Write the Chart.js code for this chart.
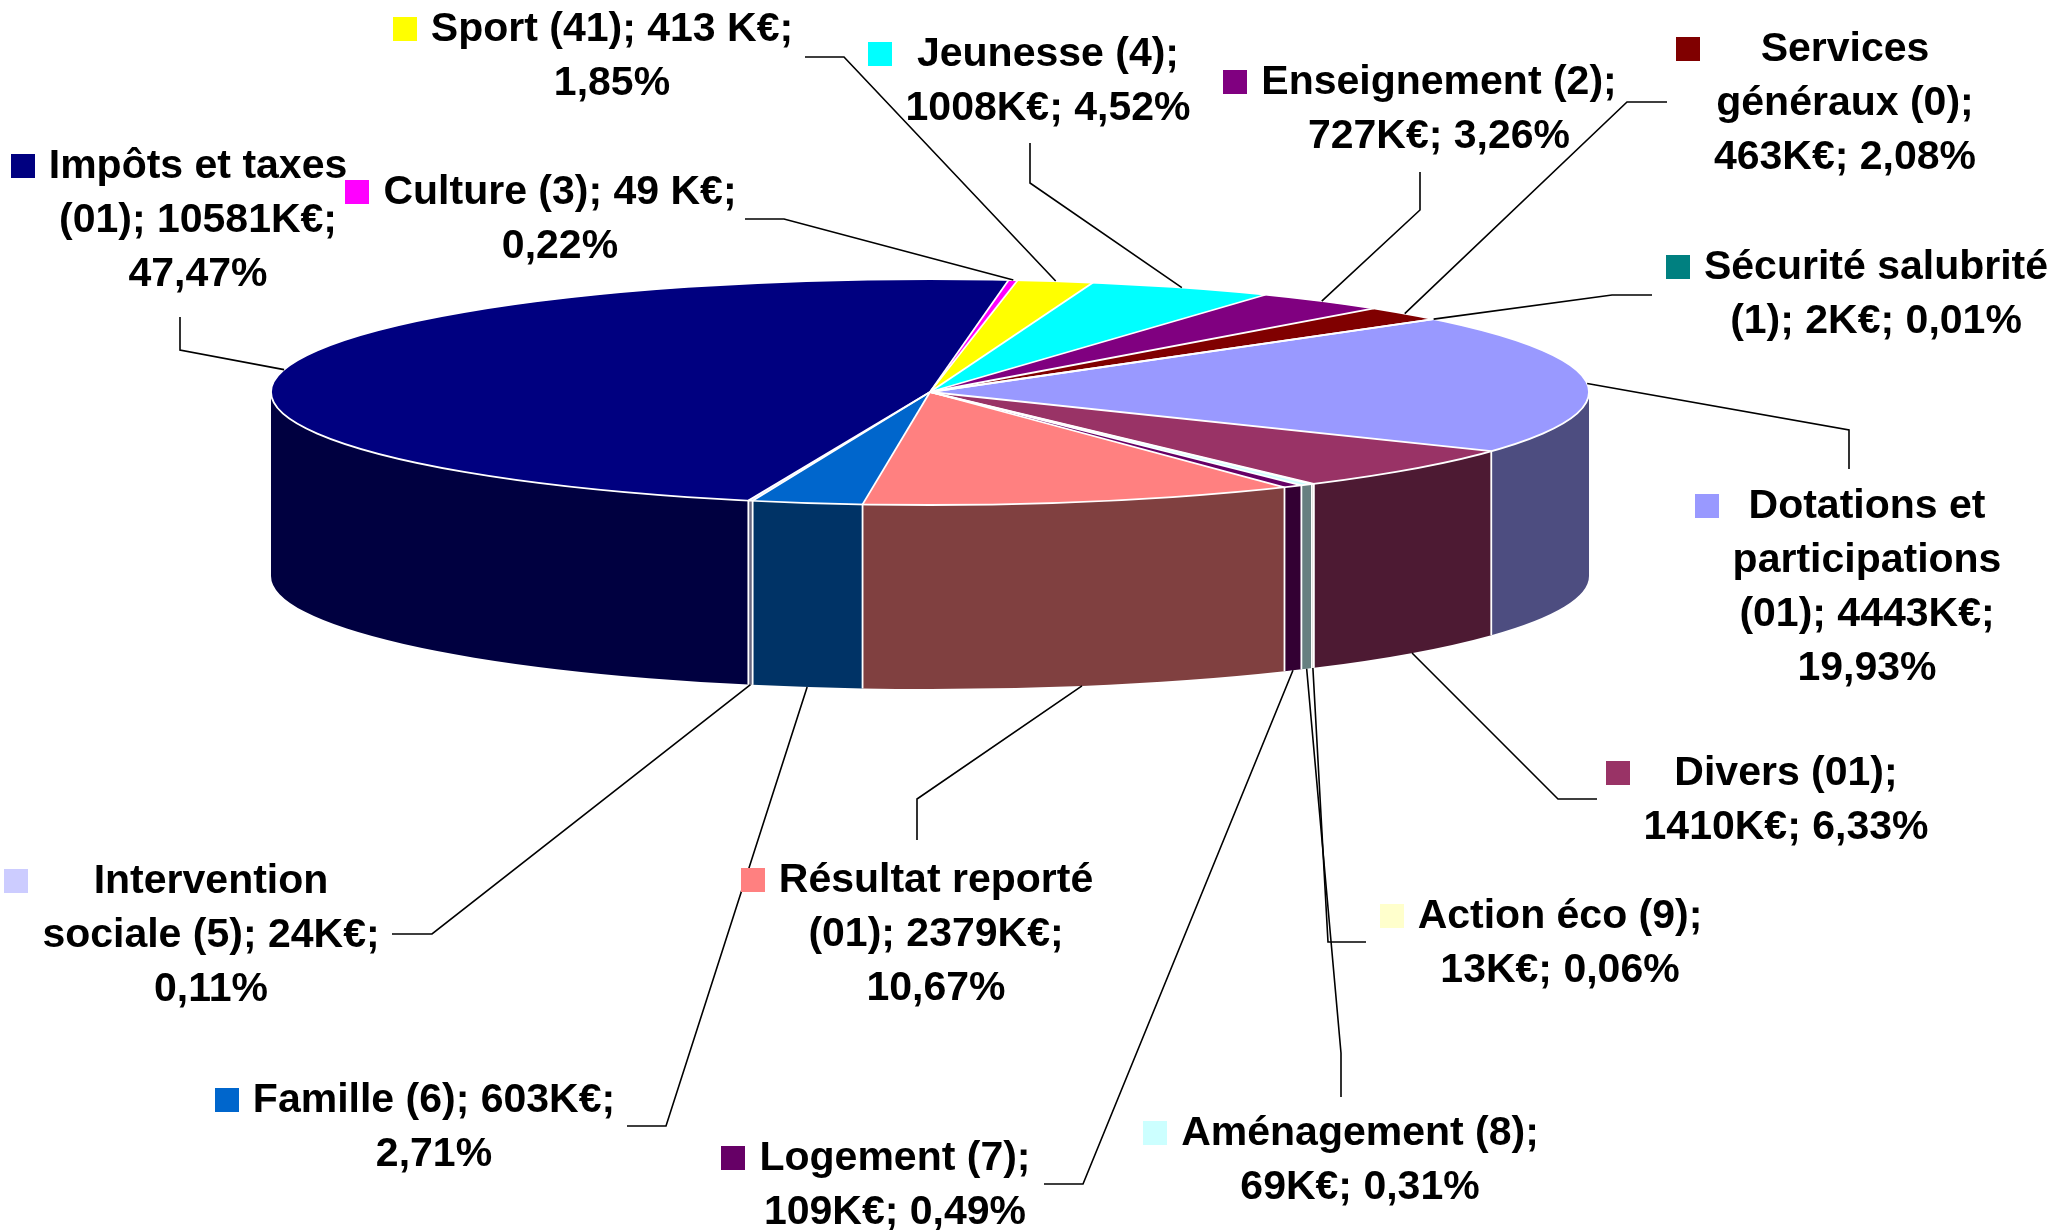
<!DOCTYPE html>
<html>
<head>
<meta charset="utf-8">
<script src="https://cdn.jsdelivr.net/npm/chart.js@4.4.0/dist/chart.umd.min.js"></script>
<style>
html, body { margin: 0; padding: 0; background: #fff; overflow: hidden; }
#wrap { width: 2070px; height: 1230px; position: relative; }
</style>
</head>
<body>
<div id="wrap"><canvas id="chart"></canvas></div>
<script>
// Data (K€), clockwise from the slice at 196°
const categories = ['Impôts et taxes', 'Culture', 'Sport', 'Jeunesse', 'Enseignement', 'Services généraux',
    'Sécurité salubrité', 'Dotations et participations', 'Divers', 'Action éco', 'Aménagement', 'Logement',
    'Résultat reporté', 'Famille', 'Intervention sociale'];
const values = [10581, 49, 413, 1008, 727, 463, 2, 4443, 1410, 13, 69, 109, 2379, 603, 24];
const labelLines = [
    ['Impôts et taxes', '(01); 10581K€;', '47,47%'],
    ['Culture (3); 49 K€;', '0,22%'],
    ['Sport (41); 413 K€;', '1,85%'],
    ['Jeunesse (4);', '1008K€; 4,52%'],
    ['Enseignement (2);', '727K€; 3,26%'],
    ['Services', 'généraux (0);', '463K€; 2,08%'],
    ['Sécurité salubrité', '(1); 2K€; 0,01%'],
    ['Dotations et', 'participations', '(01); 4443K€;', '19,93%'],
    ['Divers (01);', '1410K€; 6,33%'],
    ['Action éco (9);', '13K€; 0,06%'],
    ['Aménagement (8);', '69K€; 0,31%'],
    ['Logement (7);', '109K€; 0,49%'],
    ['Résultat reporté', '(01); 2379K€;', '10,67%'],
    ['Famille (6); 603K€;', '2,71%'],
    ['Intervention', 'sociale (5); 24K€;', '0,11%'],
];

const colors = ['#000080', '#FF00FF', '#FFFF00', '#00FFFF', '#800080', '#800000', '#008080', '#9999FF',
    '#993366', '#FFFFCC', '#CCFFFF', '#660066', '#FF8080', '#0066CC', '#CCCCFF'];

// label placement: [center x, first baseline]
const labelAt = [[198, 178], [560, 204], [612, 41], [1048, 66], [1439, 94], [1845, 61], [1876, 279],
    [1867, 518], [1786, 785], [1560, 928], [1360, 1145], [895, 1170], [936, 892], [434, 1112], [211, 893]];
// leader line: elbow x, elbow y, end x, end y
const leaderVia = [[180, 350, 180, 317], [784, 219, 745, 219], [844, 57, 805, 57], [1030, 183, 1030, 143],
    [1420, 210, 1420, 172], [1627, 102, 1667, 102], [1612, 295, 1652, 295], [1849, 430, 1849, 469],
    [1558, 799, 1597, 799], [1328, 942, 1366, 942], [1341, 1053, 1341, 1097], [1083, 1184, 1044, 1184],
    [917, 799, 917, 840], [666, 1126, 627, 1126], [432, 934, 392, 934]];

const ELLIPSE = { a: 659, b: 113, depth: 184 };
const FONT = 'bold 41px "Liberation Sans", Arial, sans-serif';
const LINE_H = 54;

function halfColor(hex) {
    const n = parseInt(hex.slice(1), 16);
    const r = (n >> 16) & 255, g = (n >> 8) & 255, b = n & 255;
    return 'rgb(' + Math.round(r / 2) + ',' + Math.round(g / 2) + ',' + Math.round(b / 2) + ')';
}

const pie3d = {
    id: 'pie3d',
    beforeDatasetsDraw(chart) {
        const ctx = chart.ctx;
        const arcs = chart.getDatasetMeta(0).data;
        const {x, y, outerRadius} = arcs[0];
        const a = ELLIPSE.a, b = ELLIPSE.b, d = ELLIPSE.depth;

        // side walls, only the front half shows
        arcs.forEach((arc, i) => {
            for (let k = -1; k <= 2; k++) {
                const p = Math.max(arc.startAngle, 2 * Math.PI * k);
                const q = Math.min(arc.endAngle, 2 * Math.PI * k + Math.PI);
                if (q <= p) continue;
                ctx.beginPath();
                ctx.ellipse(x, y, a, b, 0, p, q, false);
                ctx.ellipse(x, y + d, a, b, 0, q, p, true);
                ctx.closePath();
                ctx.fillStyle = halfColor(colors[i]);
                ctx.fill();
            }
        });
        ctx.strokeStyle = '#ffffff';
        ctx.lineWidth = 1.8;
        arcs.forEach(arc => {
            const t = arc.startAngle;
            if (Math.sin(t) > 0.02) {
                const px = x + a * Math.cos(t), py = y + b * Math.sin(t);
                ctx.beginPath();
                ctx.moveTo(px, py);
                ctx.lineTo(px, py + d);
                ctx.stroke();
            }
        });

        // squash the library's round pie into the top face
        ctx.save();
        ctx.translate(x, y);
        ctx.scale(a / outerRadius, b / outerRadius);
        ctx.translate(-x, -y);
    },
    afterDatasetsDraw(chart) {
        const ctx = chart.ctx;
        ctx.restore();
        const arcs = chart.getDatasetMeta(0).data;
        const {x, y} = arcs[0];
        const a = ELLIPSE.a, b = ELLIPSE.b, d = ELLIPSE.depth;

        // white seams on the top face
        ctx.strokeStyle = '#ffffff';
        ctx.lineWidth = 1.8;
        arcs.forEach(arc => {
            const t = arc.startAngle;
            ctx.beginPath();
            ctx.moveTo(x, y);
            ctx.lineTo(x + a * Math.cos(t), y + b * Math.sin(t));
            ctx.stroke();
        });
        ctx.beginPath();
        ctx.ellipse(x, y, a, b, 0, 0, Math.PI * 2);
        ctx.stroke();

        // leader lines
        ctx.strokeStyle = '#000000';
        ctx.lineWidth = 1.6;
        arcs.forEach((arc, i) => {
            const m = (arc.startAngle + arc.endAngle) / 2;
            let ax = x + a * Math.cos(m), ay = y + b * Math.sin(m);
            if (Math.sin(m) > 0) ay += d;
            const v = leaderVia[i];
            ctx.beginPath();
            ctx.moveTo(ax, ay);
            ctx.lineTo(v[0], v[1]);
            ctx.lineTo(v[2], v[3]);
            ctx.stroke();
        });

        // labels with colour key
        ctx.font = FONT;
        ctx.textAlign = 'center';
        ctx.textBaseline = 'alphabetic';
        labelLines.forEach((lines, i) => {
            const [cx, by] = labelAt[i];
            let w = 0;
            lines.forEach(s => { w = Math.max(w, ctx.measureText(s).width); });
            ctx.fillStyle = colors[i];
            ctx.fillRect(Math.round(cx - w / 2 - 14 - 24), by - 24, 24, 24);
            ctx.fillStyle = '#000000';
            lines.forEach((s, j) => ctx.fillText(s, cx, by + j * LINE_H));
        });
    }
};

const PIE = document.getElementById('chart');
const pieChart = new Chart(PIE, {
    type: 'pie',
    data: {
        labels: categories,
        datasets: [{
            data: values,
            backgroundColor: colors,
            borderWidth: 0,
        }]
    },
    options: {
        responsive: true,
        maintainAspectRatio: false,
        animation: false,
        events: [],
        rotation: 196,
        layout: {
            padding: { left: 730, right: 940, top: 192, bottom: 638 }
        },
        plugins: {
            legend: { display: false },
            tooltip: { enabled: false },
        },
    },
    plugins: [pie3d],
});
</script>
</body>
</html>
